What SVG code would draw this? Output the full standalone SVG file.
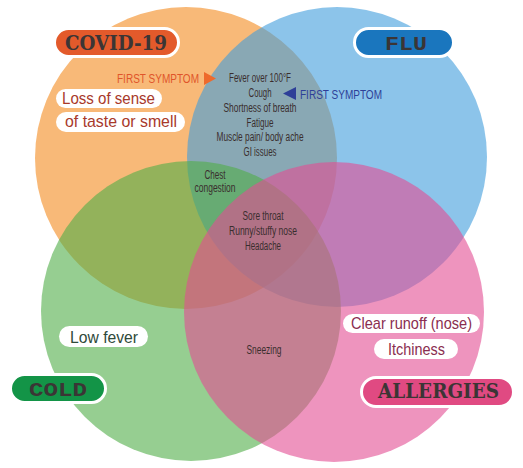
<svg xmlns="http://www.w3.org/2000/svg" width="523" height="468" viewBox="0 0 523 468">
<style>
.c{opacity:0.6}
.pill{stroke:#fff;stroke-width:3}
.slab{font-family:"DejaVu Serif",serif;font-weight:bold;fill:#3b3535}
.mono{font-family:"Liberation Mono","Courier New",monospace;font-weight:bold;fill:#3b3535}
.box{fill:#fff}
.big{font-family:"Liberation Sans",Arial,sans-serif;font-size:17px}
.sm{font-family:"Liberation Sans",Arial,sans-serif;font-size:12px;fill:#3a2e2e;text-anchor:middle}
.fs{font-family:"Liberation Sans",Arial,sans-serif;font-size:12.5px}
</style>
<rect width="523" height="468" fill="#fff"/>
<g id="circles">
<circle id="covid-circle" cx="186" cy="158" r="151" fill="#F8B978"/>
<circle id="flu-circle" class="c" cx="337" cy="157" r="150" fill="#3F9DDC"/>
<circle id="cold-circle" class="c" cx="191" cy="311" r="150" fill="#50AD48"/>
<circle id="allergies-circle" class="c" cx="334" cy="312" r="150" fill="#E34D93"/>
</g>
<g id="covid">
<rect class="pill" x="54.5" y="28.5" width="124" height="28" rx="14" fill="#E35A2B"/>
<text class="slab" x="65" y="50" font-size="21" textLength="102" lengthAdjust="spacingAndGlyphs">COVID-19</text>
<rect class="box" x="56" y="89" width="106" height="19" rx="9.5"/>
<text class="big" x="62" y="104" fill="#A8392B" textLength="93" lengthAdjust="spacingAndGlyphs">Loss of sense</text>
<rect class="box" x="56" y="112" width="129" height="20" rx="10"/>
<text class="big" x="65" y="127" fill="#A8392B" textLength="112" lengthAdjust="spacingAndGlyphs">of taste or smell</text>
</g>
<g id="flu">
<rect class="pill" x="354.5" y="28.5" width="99" height="28" rx="14" fill="#1A76BE"/>
<text class="mono" x="385" y="50" font-size="21" textLength="42" lengthAdjust="spacingAndGlyphs">FLU</text>
</g>
<g id="cold">
<rect class="pill" x="10.5" y="374.5" width="95" height="28" rx="14" fill="#139447"/>
<text class="mono" x="29" y="396" font-size="20" textLength="58" lengthAdjust="spacingAndGlyphs">COLD</text>
<rect class="box" x="59" y="326" width="89" height="21" rx="10.5"/>
<text class="big" x="70" y="343" fill="#2F4A3A" textLength="68" lengthAdjust="spacingAndGlyphs">Low fever</text>
</g>
<g id="allergies">
<rect class="pill" x="361.5" y="377.5" width="152" height="29" rx="14.5" fill="#E04A82"/>
<text class="slab" x="378" y="398" font-size="20" textLength="121" lengthAdjust="spacingAndGlyphs">ALLERGIES</text>
<rect class="box" x="343" y="314" width="137" height="19" rx="9.5"/>
<text class="big" x="351" y="329" fill="#8A2E50" textLength="121" lengthAdjust="spacingAndGlyphs">Clear runoff (nose)</text>
<rect class="box" x="374" y="339" width="84" height="20" rx="10"/>
<text class="big" x="388" y="355" fill="#8A2E50" textLength="57" lengthAdjust="spacingAndGlyphs">Itchiness</text>
</g>
<g id="shared-symptoms">
<text class="sm" x="260" y="82" textLength="62" lengthAdjust="spacingAndGlyphs">Fever over 100°F</text>
<text class="sm" x="260" y="97" textLength="23" lengthAdjust="spacingAndGlyphs">Cough</text>
<text class="sm" x="260" y="112" textLength="73" lengthAdjust="spacingAndGlyphs">Shortness of breath</text>
<text class="sm" x="260" y="127" textLength="27" lengthAdjust="spacingAndGlyphs">Fatigue</text>
<text class="sm" x="260" y="141" textLength="87" lengthAdjust="spacingAndGlyphs">Muscle pain/ body ache</text>
<text class="sm" x="260" y="156" textLength="33" lengthAdjust="spacingAndGlyphs">GI issues</text>
<text class="sm" x="215" y="179" textLength="21" lengthAdjust="spacingAndGlyphs">Chest</text>
<text class="sm" x="215" y="192" textLength="41" lengthAdjust="spacingAndGlyphs">congestion</text>
<text class="sm" x="263" y="220" textLength="41" lengthAdjust="spacingAndGlyphs">Sore throat</text>
<text class="sm" x="263" y="235" textLength="68" lengthAdjust="spacingAndGlyphs">Runny/stuffy nose</text>
<text class="sm" x="263" y="250" textLength="36" lengthAdjust="spacingAndGlyphs">Headache</text>
<text class="sm" x="264" y="354" textLength="35" lengthAdjust="spacingAndGlyphs">Sneezing</text>
</g>
<g id="connectors">
<text class="fs" x="117" y="83" fill="#E0552A" textLength="82" lengthAdjust="spacingAndGlyphs">FIRST SYMPTOM</text>
<polygon points="204,72 216,78.5 204,85" fill="#EE6A2C"/>
<polygon points="296,87 283,93.5 296,100" fill="#2E3F98"/>
<text class="fs" x="300" y="99" fill="#2E3F98" textLength="82" lengthAdjust="spacingAndGlyphs">FIRST SYMPTOM</text>
</g>
</svg>
